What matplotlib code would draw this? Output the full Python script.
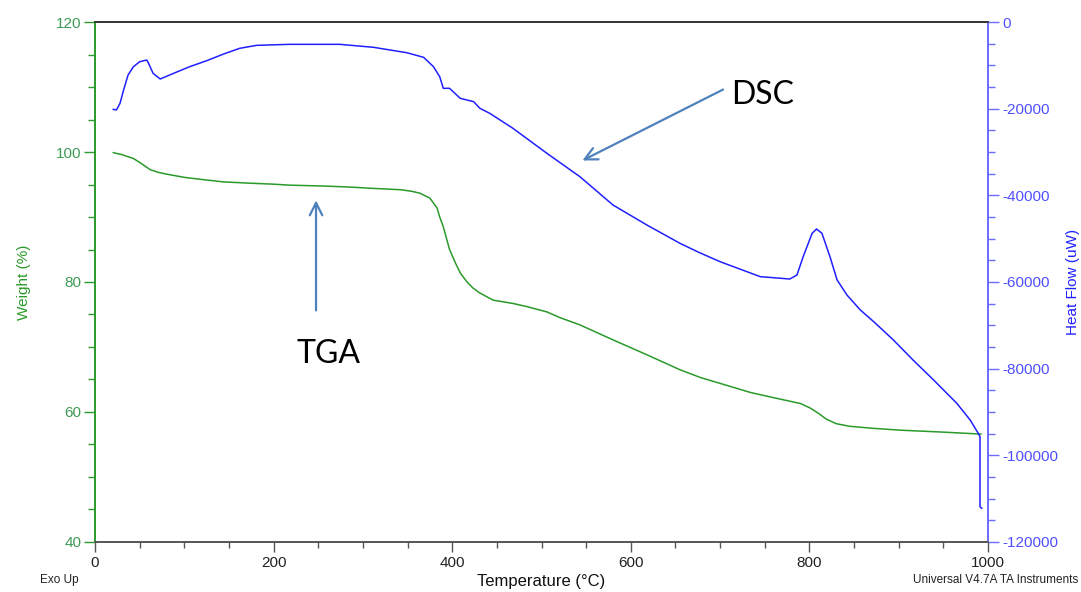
import matplotlib.pyplot as plt
from matplotlib.ticker import MultipleLocator

# TGA: temperature (°C) and weight (%)
tga_temp = [20.5, 30, 43, 50, 61.6, 70, 80, 100, 118, 144, 174, 200, 218, 260,
            286, 312, 342, 355, 364, 375, 383, 386, 390, 397, 404, 409, 416,
            423, 431, 446, 468, 484, 506, 521, 543, 580, 618, 655, 678, 700,
            734, 760, 790, 801, 810, 819, 830, 845, 870, 902, 950, 992]
tga_weight = [99.9, 99.6, 99.0, 98.4, 97.3, 96.9, 96.6, 96.1, 95.8, 95.4, 95.2,
              95.05, 94.9, 94.75, 94.6, 94.4, 94.2, 93.95, 93.65, 92.9, 91.4,
              90.0, 88.5, 85.0, 82.8, 81.4, 80.1, 79.1, 78.3, 77.2, 76.7, 76.2,
              75.4, 74.5, 73.4, 71.1, 68.8, 66.5, 65.3, 64.4, 63.0, 62.2, 61.3,
              60.6, 59.8, 58.9, 58.2, 57.8, 57.5, 57.2, 56.9, 56.6]

# DSC: temperature (°C) and heat flow (uW)
dsc_temp = [20.5, 24, 28, 32, 37, 43, 50, 58, 60, 65, 73, 88, 106, 125, 144,
            162, 181, 218, 274, 312, 349, 368, 379, 386, 390, 397, 401, 409,
            424, 431, 442, 468, 506, 543, 580, 618, 655, 677, 700, 715, 745,
            778, 786, 793, 803, 808, 814, 823, 831, 842, 857, 872, 894, 916,
            939, 965, 980, 989, 991, 991, 993]
dsc_flow = [-20150, -20300, -18760, -15690, -12230, -10310, -9160, -8770,
            -9540, -11840, -13150, -11840, -10310, -8930, -7380, -6070, -5380,
            -5150, -5150, -5840, -7080, -8150, -10310, -12620, -15300, -15300,
            -16080, -17610, -18380, -19920, -21070, -24530, -30300, -35700,
            -42230, -46850, -51070, -53240, -55310, -56470, -58770, -59310,
            -58390, -54160, -48760, -47770, -48760, -54160, -59540, -63000,
            -66460, -69160, -73380, -78000, -82610, -87990, -91850, -94920,
            -95700, -111850, -112230]

green = '#2a9a2a'
green_txt = '#3e9a55'
blue = '#2020ff'
blue_ax = '#6b6bff'
blue_txt = '#4f4fff'
arrow_c = '#4f81bd'

plt.rcParams['font.family'] = ['Liberation Sans', 'DejaVu Sans']
plt.rcParams['axes.unicode_minus'] = False

fig = plt.figure(figsize=(10.81, 5.92), dpi=100)
ax = fig.add_axes([0.0879, 0.0845, 0.8261, 0.8783])
ax2 = ax.twinx()

ax.plot(tga_temp, tga_weight, color=green, lw=1.1)
ax2.plot(dsc_temp, dsc_flow, color=blue, lw=1.1)

ax.set_xlim(0, 1000)
ax.set_ylim(40, 120)
ax2.set_ylim(-120000, 0)

ax.xaxis.set_major_locator(MultipleLocator(200))
ax.xaxis.set_minor_locator(MultipleLocator(50))
ax.yaxis.set_major_locator(MultipleLocator(20))
ax.yaxis.set_minor_locator(MultipleLocator(5))
ax2.yaxis.set_major_locator(MultipleLocator(20000))
ax2.yaxis.set_minor_locator(MultipleLocator(5000))

ax.tick_params(axis='x', which='major', length=7, width=1, color='#555555',
               labelsize=11, labelcolor='#222222', pad=3)
ax.tick_params(axis='x', which='minor', length=4, width=1, color='#555555')
ax.tick_params(axis='y', which='major', length=8, width=1, color=green,
               labelsize=11, labelcolor=green_txt, pad=2)
ax.tick_params(axis='y', which='minor', length=5, width=1, color=green)
ax2.tick_params(axis='y', which='major', length=8, width=1, color=blue_ax,
                labelsize=11, labelcolor=blue_txt, pad=2)
ax2.tick_params(axis='y', which='minor', length=5, width=1, color=blue_ax)

for a in (ax, ax2):
    a.spines['left'].set_color(green)
    a.spines['right'].set_color(blue_ax)
    a.spines['top'].set_color('#333333')
    a.spines['bottom'].set_color('#555555')
    for s in a.spines.values():
        s.set_linewidth(1.2)

ax.set_xlabel('Temperature (°C)', fontsize=12, color='#111111', labelpad=3)
ax.set_ylabel('Weight (%)', fontsize=11, color=green, labelpad=18)
ax2.set_ylabel('Heat Flow (uW)', fontsize=11, color=blue, labelpad=6)

fig.text(40 / 1081, 1 - 580 / 592, 'Exo Up', fontsize=8.5, color='#222222',
         va='center', ha='left')
fig.text(1078 / 1081, 1 - 580 / 592, 'Universal V4.7A TA Instruments',
         fontsize=8.5, color='#222222', va='center', ha='right')

# curve callouts
ax2.annotate('', xy=(543, 98.5), xytext=(706, 109.8),
             xycoords=ax.transData, textcoords=ax.transData,
             arrowprops=dict(arrowstyle='->,head_length=0.9,head_width=0.45',
                             color=arrow_c, lw=1.6))
ax2.text(748, 108.8, 'DSC', transform=ax.transData, fontsize=23,
         family='Lato', ha='center', va='center', color='black')
ax2.annotate('', xy=(247.5, 93.0), xytext=(247.5, 75.2),
             xycoords=ax.transData, textcoords=ax.transData,
             arrowprops=dict(arrowstyle='->,head_length=0.9,head_width=0.45',
                             color=arrow_c, lw=1.6))
ax2.text(261, 68.9, 'TGA', transform=ax.transData, fontsize=23,
         family='Lato', ha='center', va='center', color='black')

fig.savefig('out.png', dpi=100)
